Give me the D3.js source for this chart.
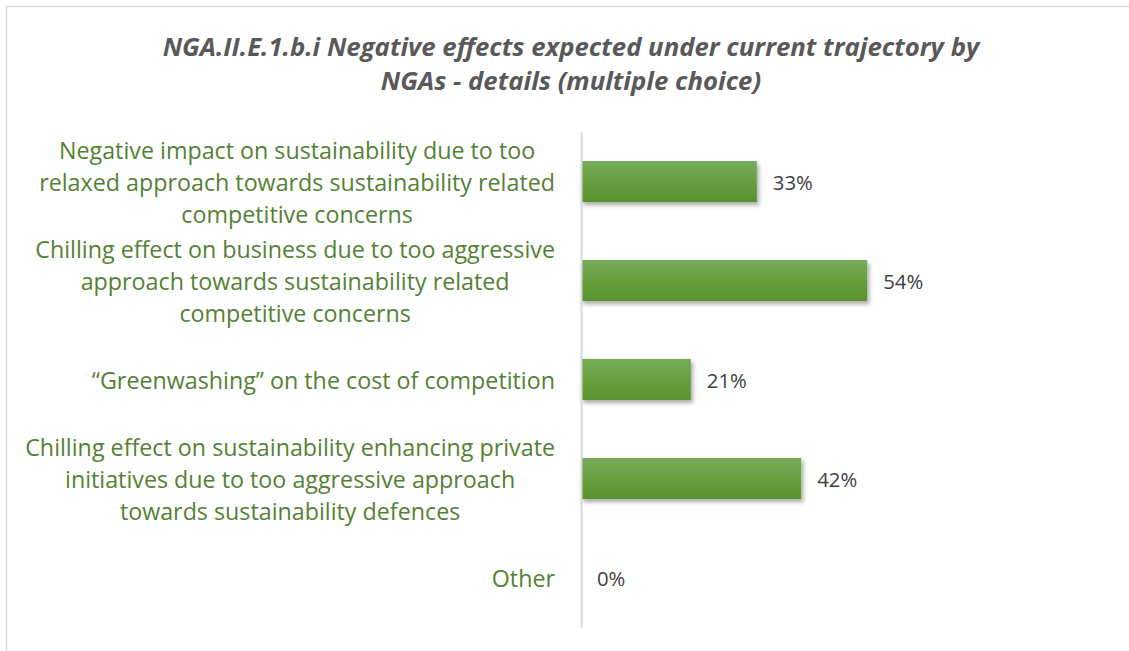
<!DOCTYPE html>
<html><head><meta charset="utf-8">
<script src="https://cdn.jsdelivr.net/npm/d3@7"></script>
<style>html,body{margin:0;padding:0;background:#fff;}svg{display:block;}</style>
</head><body>
<svg id="chart" width="1129" height="651"></svg>
<script>
const titleLines = ["NGA.II.E.1.b.i Negative effects expected under current trajectory by", "NGAs - details (multiple choice)"];
const categories = [
  ["Negative impact on sustainability due to too", "relaxed approach towards sustainability related", "competitive concerns"],
  ["Chilling effect on business due to too aggressive", "approach towards sustainability related", "competitive concerns"],
  ["\u201cGreenwashing\u201d on the cost of competition"],
  ["Chilling effect on sustainability enhancing private", "initiatives due to too aggressive approach", "towards sustainability defences"],
  ["Other"]
];
const values = [0.333, 0.542, 0.208, 0.417, 0.0];
const valueLabels = ["33%", "54%", "21%", "42%", "0%"];

const svg = d3.select("#chart");
const FONT = "'Open Sans', 'Noto Sans', sans-serif";

// chart border
svg.append("rect").attr("x", 6.5).attr("y", 6.5).attr("width", 1300).attr("height", 800)
  .attr("fill", "#fff").attr("stroke", "#d9d9d9").attr("stroke-width", 1.3);

const defs = svg.append("defs");
const grad = defs.append("linearGradient").attr("id", "barGrad").attr("x1", 0).attr("y1", 0).attr("x2", 0).attr("y2", 1);
grad.append("stop").attr("offset", "0%").attr("stop-color", "#76aa5a");
grad.append("stop").attr("offset", "50%").attr("stop-color", "#66a03e");
grad.append("stop").attr("offset", "100%").attr("stop-color", "#5a9130");
const filt = defs.append("filter").attr("id", "shadow").attr("x", "-5%").attr("y", "-20%").attr("width", "115%").attr("height", "160%");
filt.append("feDropShadow").attr("dx", 2).attr("dy", 3).attr("stdDeviation", 2).attr("flood-color", "#000").attr("flood-opacity", 0.35);

// scales
const x = d3.scaleLinear().domain([0, 1]).range([581, 1109]);
const y = d3.scaleBand().domain(d3.range(categories.length)).range([132, 627]).paddingInner(0.585).paddingOuter(0.2925);

// title
const title = svg.append("g");
function fitSize(textSel, target) {
  const w = textSel.node().getComputedTextLength();
  const fs = parseFloat(textSel.attr("font-size"));
  textSel.attr("font-size", fs * target / w);
  return fs * target / w;
}
const t0 = title.append("text").attr("x", 571).attr("y", 56).attr("text-anchor", "middle")
  .attr("font-family", FONT).attr("font-style", "italic").attr("font-weight", "bold")
  .attr("font-size", 24).attr("fill", "#595959").text(titleLines[0]);
const tfs = fitSize(t0, 817);
title.append("text").attr("x", 571).attr("y", 90).attr("text-anchor", "middle")
  .attr("font-family", FONT).attr("font-style", "italic").attr("font-weight", "bold")
  .attr("font-size", tfs).attr("fill", "#595959").text(titleLines[1]);

// category labels
const labelG = svg.append("g");
// determine font size: widest line fits 530px
const probe = labelG.append("text").attr("font-family", FONT).attr("font-size", 22).text(categories[3][0]);
const lfs = fitSize(probe, 530);
probe.remove();
const lineH = 32;
const labelRight = 555;
categories.forEach((lines, i) => {
  const cy = y(i) + y.bandwidth() / 2;
  const g = labelG.append("g");
  const texts = lines.map((ln, j) => g.append("text")
    .attr("font-family", FONT).attr("font-size", lfs).attr("fill", "#548235")
    .attr("text-anchor", "middle").attr("dominant-baseline", "central")
    .attr("y", cy + (j - (lines.length - 1) / 2) * lineH).text(ln));
  const maxW = d3.max(texts, t => t.node().getComputedTextLength());
  texts.forEach(t => t.attr("x", labelRight - maxW / 2));
});

// bars
svg.append("g").selectAll("rect").data(values).join("rect")
  .attr("x", x(0)).attr("y", (d, i) => y(i)).attr("width", d => x(d) - x(0)).attr("height", y.bandwidth())
  .attr("fill", "url(#barGrad)").attr("filter", "url(#shadow)");

// axis line
const axis = d3.axisLeft(y).tickSize(0).tickFormat("");
svg.append("g").attr("transform", `translate(${x(0)},0)`).call(axis)
  .call(g => g.select(".domain").attr("stroke", "#d9d9d9").attr("stroke-width", 2));

// value labels
const vl = svg.append("g").selectAll("text").data(values).join("text")
  .attr("x", d => x(d) + 16).attr("y", (d, i) => y(i) + y.bandwidth() / 2)
  .attr("dominant-baseline", "central").attr("font-family", FONT).attr("font-size", 19)
  .attr("fill", "#404040").text((d, i) => valueLabels[i]);
const vw = vl.nodes()[0].getComputedTextLength();
vl.attr("font-size", 19 * 40 / vw);
</script>
</body></html>
